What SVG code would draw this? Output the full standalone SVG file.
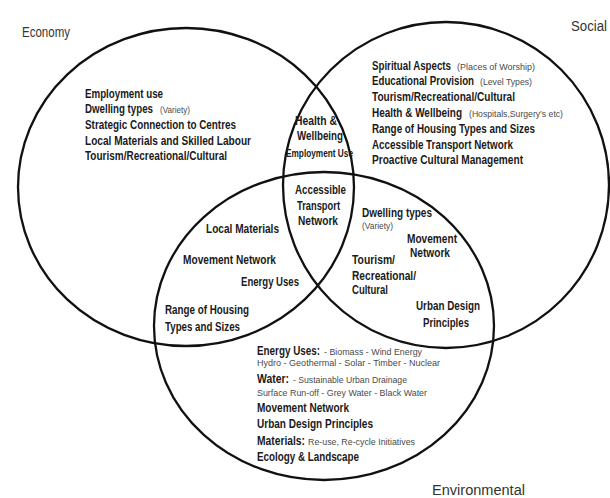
<svg xmlns="http://www.w3.org/2000/svg" width="610" height="498" viewBox="0 0 610 498">
  <style>
    .ring { fill: none; stroke: #111; stroke-width: 2.3; }
    .title { font-family: "Liberation Sans Narrow", "Liberation Sans", Arial, sans-serif; font-size: 14px; fill: #333; }
    .b { font-family: "Liberation Sans Narrow", "Liberation Sans", Arial, sans-serif; font-weight: bold; font-size: 12px; fill: #1a1a1a; }
    .m { font-family: "Liberation Sans Narrow", "Liberation Sans", Arial, sans-serif; font-weight: bold; font-size: 13.5px; fill: #1a1a1a; }
    .s { font-family: "Liberation Sans Narrow", "Liberation Sans", Arial, sans-serif; font-weight: bold; font-size: 10.5px; fill: #1a1a1a; }
    .l { font-family: "Liberation Sans Narrow", "Liberation Sans", Arial, sans-serif; font-weight: normal; font-size: 9.5px; fill: #4a4a4a; }
  </style>

  <!-- the three sets -->
  <g id="economy">
    <ellipse class="ring" cx="186" cy="187" rx="168" ry="159"/>
    <text class="title" x="22" y="37" textLength="48" lengthAdjust="spacingAndGlyphs">Economy</text>
  </g>
  <g id="social">
    <ellipse class="ring" cx="446" cy="185" rx="163" ry="163"/>
    <text class="title" x="571" y="31" textLength="36" lengthAdjust="spacingAndGlyphs">Social</text>
  </g>
  <g id="environmental">
    <ellipse class="ring" cx="324" cy="326" rx="170" ry="154"/>
    <text class="title" x="432" y="495" textLength="93" lengthAdjust="spacingAndGlyphs">Environmental</text>
  </g>

  <!-- economy only -->
  <g id="economy-items">
    <text class="b" x="85" y="97.5" textLength="78" lengthAdjust="spacingAndGlyphs">Employment use</text>
    <text class="b" x="85" y="113.2" textLength="68" lengthAdjust="spacingAndGlyphs">Dwelling types</text>
    <text class="l" x="160" y="113.2" textLength="30" lengthAdjust="spacingAndGlyphs">(Variety)</text>
    <text class="b" x="85" y="128.9" textLength="151" lengthAdjust="spacingAndGlyphs">Strategic Connection to Centres</text>
    <text class="b" x="85" y="144.6" textLength="166" lengthAdjust="spacingAndGlyphs">Local Materials and Skilled Labour</text>
    <text class="b" x="85" y="160.3" textLength="142" lengthAdjust="spacingAndGlyphs">Tourism/Recreational/Cultural</text>
  </g>

  <!-- social only -->
  <g id="social-items">
    <text class="b" x="372" y="69.5" textLength="79" lengthAdjust="spacingAndGlyphs">Spiritual Aspects</text>
    <text class="l" x="457" y="69.5" textLength="78" lengthAdjust="spacingAndGlyphs">(Places of Worship)</text>
    <text class="b" x="372" y="85.3" textLength="102" lengthAdjust="spacingAndGlyphs">Educational Provision</text>
    <text class="l" x="480" y="85.3" textLength="52" lengthAdjust="spacingAndGlyphs">(Level Types)</text>
    <text class="b" x="372" y="101.1" textLength="143" lengthAdjust="spacingAndGlyphs">Tourism/Recreational/Cultural</text>
    <text class="b" x="372" y="116.9" textLength="90" lengthAdjust="spacingAndGlyphs">Health &amp; Wellbeing</text>
    <text class="l" x="469" y="116.9" textLength="94" lengthAdjust="spacingAndGlyphs">(Hospitals,Surgery’s etc)</text>
    <text class="b" x="372" y="132.7" textLength="163" lengthAdjust="spacingAndGlyphs">Range of Housing Types and Sizes</text>
    <text class="b" x="372" y="148.5" textLength="141" lengthAdjust="spacingAndGlyphs">Accessible Transport Network</text>
    <text class="b" x="372" y="164.3" textLength="151" lengthAdjust="spacingAndGlyphs">Proactive Cultural Management</text>
  </g>

  <!-- economy and social -->
  <g id="economy-social">
    <text class="m" x="295" y="125" textLength="42" lengthAdjust="spacingAndGlyphs">Health &amp;</text>
    <text class="m" x="297" y="140" textLength="46" lengthAdjust="spacingAndGlyphs">Wellbeing</text>
    <text class="s" x="286" y="156.5" textLength="67" lengthAdjust="spacingAndGlyphs">Employment Use</text>
  </g>

  <!-- all three -->
  <g id="all-three">
    <text class="m" x="295" y="194" textLength="51" lengthAdjust="spacingAndGlyphs">Accessible</text>
    <text class="m" x="297" y="210" textLength="43" lengthAdjust="spacingAndGlyphs">Transport</text>
    <text class="m" x="298" y="225" textLength="40" lengthAdjust="spacingAndGlyphs">Network</text>
  </g>

  <!-- economy and environmental -->
  <g id="economy-environmental">
    <text class="m" x="206" y="232.5" textLength="73" lengthAdjust="spacingAndGlyphs">Local Materials</text>
    <text class="m" x="183" y="263.5" textLength="93" lengthAdjust="spacingAndGlyphs">Movement Network</text>
    <text class="m" x="241" y="285.5" textLength="58" lengthAdjust="spacingAndGlyphs">Energy Uses</text>
    <text class="m" x="165" y="313.5" textLength="84" lengthAdjust="spacingAndGlyphs">Range of Housing</text>
    <text class="m" x="165" y="330.5" textLength="75" lengthAdjust="spacingAndGlyphs">Types and Sizes</text>
  </g>

  <!-- social and environmental -->
  <g id="social-environmental">
    <text class="m" x="362" y="216.5" textLength="70" lengthAdjust="spacingAndGlyphs">Dwelling types</text>
    <text class="l" x="362" y="228.5" textLength="31" lengthAdjust="spacingAndGlyphs">(Variety)</text>
    <text class="m" x="407" y="242.5" textLength="50" lengthAdjust="spacingAndGlyphs">Movement</text>
    <text class="m" x="410" y="256.5" textLength="40" lengthAdjust="spacingAndGlyphs">Network</text>
    <text class="m" x="352" y="263.5" textLength="43" lengthAdjust="spacingAndGlyphs">Tourism/</text>
    <text class="m" x="352" y="279.5" textLength="64" lengthAdjust="spacingAndGlyphs">Recreational/</text>
    <text class="m" x="352" y="293.5" textLength="36" lengthAdjust="spacingAndGlyphs">Cultural</text>
    <text class="m" x="416" y="309.5" textLength="64" lengthAdjust="spacingAndGlyphs">Urban Design</text>
    <text class="m" x="423" y="326.5" textLength="46" lengthAdjust="spacingAndGlyphs">Principles</text>
  </g>

  <!-- environmental only -->
  <g id="environmental-items">
    <text class="b" x="257" y="354.5" textLength="63" lengthAdjust="spacingAndGlyphs">Energy Uses:</text>
    <text class="l" x="324" y="354.5" textLength="98" lengthAdjust="spacingAndGlyphs">- Biomass - Wind Energy</text>
    <text class="l" x="257" y="365.5" textLength="183" lengthAdjust="spacingAndGlyphs">Hydro - Geothermal - Solar  - Timber - Nuclear</text>
    <text class="b" x="257" y="382.5" textLength="32" lengthAdjust="spacingAndGlyphs">Water:</text>
    <text class="l" x="293" y="382.5" textLength="114" lengthAdjust="spacingAndGlyphs">- Sustainable Urban Drainage</text>
    <text class="l" x="257" y="395.5" textLength="170" lengthAdjust="spacingAndGlyphs">Surface Run-off - Grey Water - Black Water</text>
    <text class="b" x="257" y="411.5" textLength="92" lengthAdjust="spacingAndGlyphs">Movement Network</text>
    <text class="b" x="257" y="427.5" textLength="116" lengthAdjust="spacingAndGlyphs">Urban Design Principles</text>
    <text class="b" x="257" y="444.5" textLength="48" lengthAdjust="spacingAndGlyphs">Materials:</text>
    <text class="l" x="308" y="444.5" textLength="107" lengthAdjust="spacingAndGlyphs">Re-use, Re-cycle Initiatives</text>
    <text class="b" x="257" y="460.5" textLength="102" lengthAdjust="spacingAndGlyphs">Ecology &amp; Landscape</text>
  </g>
</svg>
